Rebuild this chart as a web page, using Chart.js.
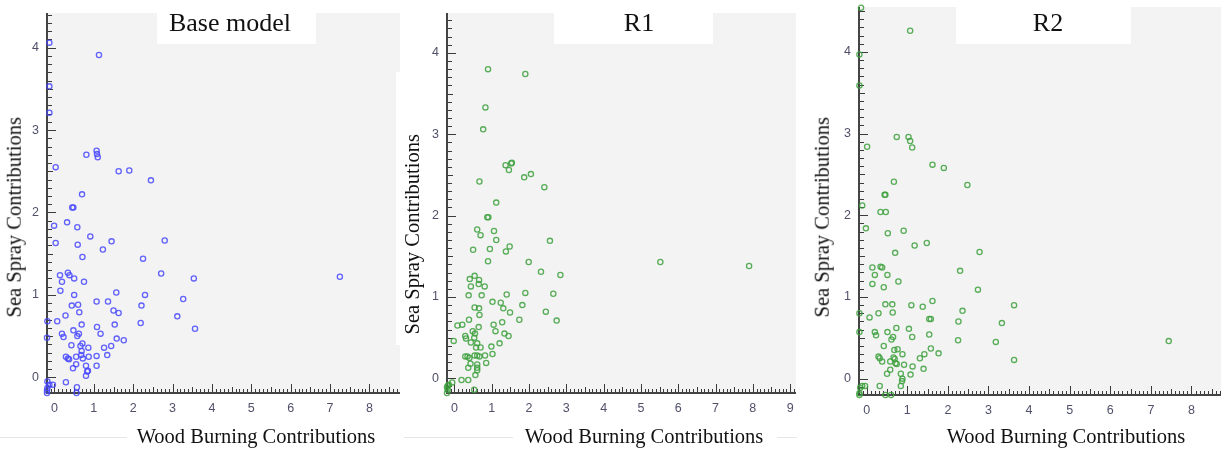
<!DOCTYPE html>
<html><head><meta charset="utf-8">
<script src="https://cdn.jsdelivr.net/npm/chart.js@4.4.1/dist/chart.umd.min.js"></script>
<style>
html,body{margin:0;padding:0;background:#fff;}
body{width:1225px;height:453px;position:relative;overflow:hidden;}
canvas{position:absolute;top:0;}
.box{position:absolute;background:#fff;}
.txt{position:absolute;font-family:"Liberation Serif","Times New Roman",serif;color:#111;white-space:nowrap;text-align:center;}
.ttl{font-size:26px;line-height:26px;}
.ax{font-size:20.5px;line-height:20.5px;width:400px;}
.yt{transform:rotate(-90deg);transform-origin:50% 50%;}
.hl{position:absolute;height:1px;background:#e6e6e6;top:437px;}
</style></head><body>
<canvas id="c1" width="404" height="453" style="left:0px;width:404px;height:453px"></canvas>
<canvas id="c2" width="396" height="453" style="left:404px;width:396px;height:453px"></canvas>
<canvas id="c3" width="425" height="453" style="left:800px;width:425px;height:453px"></canvas>

<div class="hl" style="left:0;width:127px"></div>
<div class="hl" style="left:404px;width:109px"></div>
<div class="hl" style="left:777px;width:20px"></div>

<div class="box" style="left:157px;top:13px;width:159px;height:31px"></div>
<div class="box" style="left:554px;top:13px;width:159px;height:31px"></div>
<div class="box" style="left:956px;top:7px;width:175px;height:37px"></div>
<div class="box" style="left:396px;top:72px;width:34px;height:273px"></div>

<div class="txt ttl" style="left:130px;top:10px;width:200px">Base model</div>
<div class="txt ttl" style="left:539px;top:10px;width:200px">R1</div>
<div class="txt ttl" style="left:948px;top:10px;width:200px">R2</div>

<div class="txt ax" style="left:56px;top:426px">Wood Burning Contributions</div>
<div class="txt ax" style="left:444px;top:426px">Wood Burning Contributions</div>
<div class="txt ax" style="left:866px;top:426px">Wood Burning Contributions</div>

<div class="txt ax yt" style="left:-186px;top:207px">Sea Spray Contributions</div>
<div class="txt ax yt" style="left:212px;top:224px">Sea Spray Contributions</div>
<div class="txt ax yt" style="left:622px;top:207px">Sea Spray Contributions</div>

<script>
// ---- data ----
const baseX = [-0.13,1.13,-0.13,-0.13,0.81,1.07,1.08,1.10,0.03,1.63,
  1.90,2.45,0.70,0.45,0.48,-0.01,0.32,0.58,0.91,0.03,
  0.59,1.45,2.80,1.23,0.71,2.25,2.71,0.14,0.34,0.38,
  0.50,3.54,7.25,0.19,0.75,0.15,0.50,1.57,2.30,3.27,
  0.44,0.60,1.07,1.36,2.21,1.50,1.63,0.63,0.28,3.12,
  0.07,-0.18,0.69,1.53,2.19,1.08,0.48,3.57,0.19,0.23,
  0.62,0.58,1.17,-0.19,1.58,1.76,0.43,0.71,0.66,0.86,
  1.26,1.44,0.69,0.29,0.34,0.37,0.55,0.68,0.72,0.87,
  1.07,1.34,0.47,0.55,0.80,1.07,0.85,0.83,0.80,0.29,
  0.57,-0.13,-0.04,-0.18,-0.19,-0.19,0.56,-0.18];
const baseY = [4.06,3.91,3.53,3.21,2.70,2.75,2.71,2.67,2.55,2.50,
  2.51,2.39,2.22,2.06,2.06,1.84,1.88,1.82,1.71,1.63,
  1.61,1.65,1.66,1.55,1.46,1.44,1.26,1.24,1.27,1.24,
  1.20,1.20,1.22,1.16,1.16,1.05,1.00,1.03,1.00,0.95,
  0.87,0.88,0.92,0.92,0.87,0.81,0.78,0.79,0.75,0.74,
  0.68,0.68,0.64,0.64,0.66,0.61,0.57,0.59,0.53,0.49,
  0.53,0.50,0.53,0.48,0.47,0.45,0.39,0.41,0.38,0.36,
  0.36,0.38,0.32,0.25,0.23,0.22,0.25,0.27,0.23,0.25,
  0.26,0.27,0.11,0.16,0.14,0.14,0.08,0.07,0.02,-0.06,
  -0.12,-0.09,-0.09,-0.13,-0.16,-0.19,-0.19,-0.05];

const r1X = [0.90,1.90,0.83,0.77,1.37,1.52,1.54,1.46,1.87,2.05,
  2.41,0.67,1.12,0.88,0.91,0.61,1.06,0.70,1.12,2.56,
  0.50,0.95,1.48,1.38,0.90,1.99,5.52,7.90,2.32,2.84,
  0.54,0.41,0.66,0.65,0.44,0.81,1.90,2.65,0.38,0.73,
  1.40,1.02,1.24,1.82,0.54,0.66,1.31,1.49,2.45,0.67,
  0.39,1.74,2.74,1.28,0.08,0.21,1.05,0.65,0.49,0.55,
  1.10,1.34,1.45,0.29,0.31,0.53,-0.02,0.44,0.61,0.58,
  0.70,1.21,0.99,1.02,0.29,0.35,0.40,0.54,0.61,0.67,
  0.82,0.43,0.61,0.85,0.37,0.61,0.61,0.56,0.19,0.37,
  0.53,-0.06,-0.15,-0.20,-0.18,-0.20,-0.18];
const r1Y = [3.80,3.74,3.33,3.06,2.62,2.64,2.65,2.56,2.47,2.51,
  2.35,2.42,2.16,1.98,1.98,1.83,1.81,1.76,1.70,1.69,
  1.58,1.59,1.62,1.56,1.44,1.43,1.43,1.38,1.31,1.27,
  1.26,1.22,1.21,1.16,1.13,1.13,1.05,1.04,1.02,1.02,
  1.03,0.94,0.93,0.90,0.87,0.86,0.86,0.81,0.82,0.78,
  0.72,0.72,0.71,0.69,0.65,0.66,0.66,0.63,0.58,0.55,
  0.58,0.55,0.52,0.52,0.49,0.50,0.46,0.44,0.43,0.38,
  0.38,0.43,0.39,0.30,0.27,0.27,0.25,0.28,0.28,0.27,
  0.28,0.18,0.17,0.19,0.13,0.13,0.10,0.04,-0.02,-0.02,
  -0.14,-0.05,-0.08,-0.11,-0.14,-0.18,-0.09];

const r2X = [-0.14,1.07,-0.18,-0.18,0.74,1.03,1.07,1.12,0.01,1.62,
  1.90,2.48,0.67,0.44,0.46,-0.11,0.34,0.47,-0.02,0.91,
  0.52,1.48,1.18,0.70,2.78,2.30,0.14,0.34,0.38,0.20,
  0.51,0.78,0.14,0.42,2.74,1.62,0.46,0.63,1.10,3.63,
  1.38,2.36,0.29,0.64,-0.18,0.07,1.54,1.58,2.26,3.33,
  0.73,1.04,-0.18,0.20,0.51,1.54,0.23,0.65,0.61,1.12,
  2.25,3.18,7.44,0.42,1.58,0.68,0.76,0.88,1.77,1.42,
  0.29,0.32,0.38,0.58,0.69,0.66,1.31,3.63,0.74,0.92,
  0.71,1.13,0.58,1.40,0.50,0.84,1.08,0.88,0.87,0.84,
  0.32,-0.04,-0.11,-0.16,-0.18,-0.18,0.46,0.60];
const r2Y = [4.54,4.26,3.97,3.59,2.96,2.96,2.91,2.83,2.84,2.62,
  2.58,2.37,2.41,2.25,2.25,2.12,2.04,2.04,1.84,1.81,
  1.78,1.66,1.63,1.54,1.55,1.32,1.36,1.37,1.36,1.27,
  1.27,1.19,1.16,1.12,1.09,0.95,0.91,0.91,0.90,0.90,
  0.88,0.83,0.80,0.81,0.80,0.75,0.73,0.73,0.70,0.68,
  0.62,0.61,0.57,0.57,0.57,0.54,0.53,0.51,0.48,0.51,
  0.47,0.45,0.46,0.40,0.37,0.35,0.36,0.30,0.31,0.30,
  0.27,0.25,0.21,0.21,0.24,0.26,0.25,0.23,0.18,0.17,
  0.19,0.15,0.11,0.12,0.06,0.06,0.05,0.00,-0.03,-0.09,
  -0.09,-0.09,-0.09,-0.11,-0.18,-0.20,-0.20,-0.20];

// tick labels
const xTicks8 = [0,1,2,3,4,5,6,7,8];
const xTicks9 = [0,1,2,3,4,5,6,7,8,9];
const yTicks = [0,1,2,3,4];

const toPts = (xs, ys) => xs.map((v, i) => ({x: v, y: ys[i]}));

function drawAxes(chart) {
  const ctx = chart.ctx, a = chart.chartArea, x = chart.scales.x, y = chart.scales.y;
  ctx.save();
  ctx.fillStyle = '#3a3a3a';
  const L = Math.round(a.left), B = Math.round(a.bottom);
  const x0 = Math.ceil(x.min * 10 - 1e-6), x1 = Math.floor(x.max * 10 + 1e-6);
  for (let i = x0; i <= x1; i++) {
    const px = Math.round(x.getPixelForValue(i / 10));
    const len = (i % 10 === 0) ? 9 : ((i % 5 === 0) ? 6 : 4);
    ctx.fillRect(px, B - len, 1, len);
  }
  const y0 = Math.ceil(y.min * 10 - 1e-6), y1 = Math.floor(y.max * 10 + 1e-6);
  for (let i = y0; i <= y1; i++) {
    const py = Math.round(y.getPixelForValue(i / 10));
    const len = (i % 10 === 0) ? 9 : ((i % 5 === 0) ? 6 : 5);
    ctx.fillRect(L, py, len, 1);
  }
  ctx.fillStyle = '#444444';
  ctx.fillRect(L - 1, Math.round(a.top), 2, B - Math.round(a.top) + 1);
  ctx.fillRect(L - 1, B - 1, Math.round(a.right) - L + 1, 2);
  ctx.restore();
}

const decor = {
  id: 'decor',
  beforeDraw(chart) {
    const {ctx, chartArea: a} = chart;
    ctx.save();
    ctx.fillStyle = '#f3f3f3';
    ctx.fillRect(a.left, a.top, a.right - a.left, a.bottom - a.top);
    ctx.restore();
  },
  beforeDatasetsDraw(chart) { drawAxes(chart); }
};

const tickFont = {family: '"Liberation Sans", Arial, sans-serif', size: 12.5};
const tickColor = '#50506a';

function makeChart(id, pts, color, xr, yr, xt, pad, yW, xH) {
  return new Chart(document.getElementById(id), {
    type: 'scatter',
    data: {datasets: [{
      data: pts,
      borderColor: color,
      backgroundColor: 'rgba(0,0,0,0)',
      pointRadius: 2.6,
      pointHoverRadius: 2.6,
      pointBorderWidth: 1.3,
      clip: false
    }]},
    options: {
      responsive: false,
      animation: false,
      devicePixelRatio: 1,
      layout: {padding: pad},
      plugins: {legend: {display: false}, tooltip: {enabled: false}, title: {display: false}},
      scales: {
        x: {
          type: 'linear', min: xr[0], max: xr[1],
          afterBuildTicks: s => { s.ticks = xt.map(v => ({value: v})); },
          afterFit: s => { s.height = xH; s.paddingLeft = 0; s.paddingRight = 0; },
          ticks: {font: tickFont, color: tickColor, padding: 8, autoSkip: false, maxRotation: 0},
          grid: {display: false, drawTicks: false},
          border: {display: false}
        },
        y: {
          type: 'linear', min: yr[0], max: yr[1],
          afterBuildTicks: s => { s.ticks = yTicks.map(v => ({value: v})); },
          afterFit: s => { s.width = yW; s.paddingTop = 0; s.paddingBottom = 0; },
          ticks: {font: tickFont, color: tickColor, padding: 8, autoSkip: false},
          grid: {display: false, drawTicks: false},
          border: {display: false}
        }
      }
    },
    plugins: [decor]
  });
}

makeChart('c1', toPts(baseX, baseY), 'rgba(70,70,255,0.85)', [-0.19, 8.78], [-0.19, 4.42], xTicks8,
  {left: 0, right: 1, top: 13, bottom: 0}, 47, 60);
makeChart('c2', toPts(r1X, r1Y), 'rgba(60,160,60,0.85)', [-0.20, 9.16], [-0.18, 4.49], xTicks9,
  {left: 0, right: 3, top: 13, bottom: 0}, 43, 60);
makeChart('c3', toPts(r2X, r2Y), 'rgba(60,160,60,0.85)', [-0.19, 8.73], [-0.20, 4.55], xTicks8,
  {left: 0, right: 2, top: 7, bottom: 0}, 59, 58);
</script>
</body></html>
